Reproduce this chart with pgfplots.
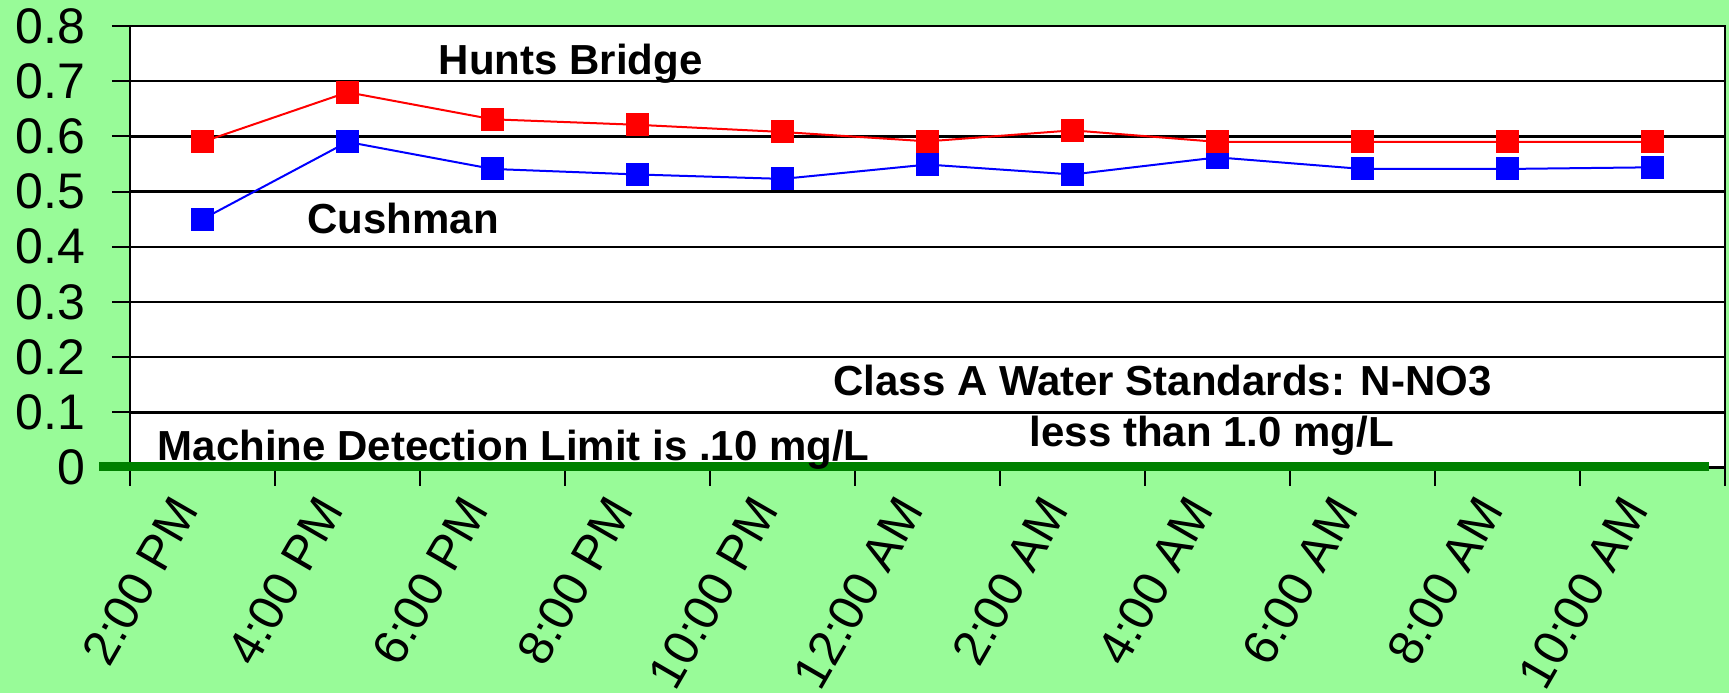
\documentclass[border=0pt]{standalone}
\usepackage{pgfplots}
\pgfplotsset{compat=1.18}
\usepackage{fontspec}
\setmainfont{Liberation Sans}
\definecolor{bggreen}{RGB}{152,251,152}
\definecolor{limgreen}{RGB}{0,128,0}
\begin{document}
\begin{tikzpicture}
\fill[bggreen] (-65pt,-112.75pt) rectangle (799.5pt,233.75pt);
\begin{axis}[
  at={(0,0)}, anchor=south west,
  scale only axis, width=797.5pt, height=220.75pt,
  xmin=-0.5, xmax=10.5, ymin=0, ymax=0.8,
  xtick={0,1,2,3,4,5,6,7,8,9,10},
  xticklabels={2:00 PM,4:00 PM,6:00 PM,8:00 PM,10:00 PM,12:00 AM,2:00 AM,4:00 AM,6:00 AM,8:00 AM,10:00 AM},
  minor xtick={-0.5,0.5,1.5,2.5,3.5,4.5,5.5,6.5,7.5,8.5,9.5,10.5},
  ytick={0,0.1,0.2,0.3,0.4,0.5,0.6,0.7,0.8},
  yticklabels={0,0.1,0.2,0.3,0.4,0.5,0.6,0.7,0.8},
  xtick pos=bottom, ytick pos=left,
  ymajorgrids, grid style={black, line width=1.2pt},
  axis line style={black, line width=1.2pt},
  tick align=outside, major tick length=9pt, minor tick length=9pt,
  major x tick style={draw=none},
  minor x tick style={black, line width=1pt},
  ytick style={black, line width=1pt},
  axis background/.style={fill=white},
  clip=false,
  yticklabel style={font=\fontsize{25}{29}\selectfont, anchor=east, inner sep=0pt, xshift=-13.3pt},
  xticklabel style={font=\fontsize{24.5}{28}\selectfont, anchor=north east, inner sep=0pt, xshift=-16pt, yshift=-3.6pt, rotate=60},
  /pgf/number format/assume math mode=true,
]
\addplot[blue, line width=1pt, mark=square*, mark size=5.5pt, mark options={solid, fill=blue, draw=blue, line width=0.5pt}]
  coordinates {(0,0.45) (1,0.59) (2,0.541) (3,0.531) (4,0.523) (5,0.549) (6,0.531) (7,0.562) (8,0.541) (9,0.541) (10,0.544)};
\addplot[red, line width=1pt, mark=square*, mark size=5.5pt, mark options={solid, fill=red, draw=red, line width=0.5pt}]
  coordinates {(0,0.59) (1,0.68) (2,0.631) (3,0.621) (4,0.608) (5,0.591) (6,0.611) (7,0.59) (8,0.59) (9,0.59) (10,0.59)};
\draw[limgreen, line width=4.5pt] ([yshift=0.6pt]axis cs:-0.712,0) -- ([yshift=0.6pt]axis cs:10.392,0);
\node[anchor=base, font=\fontsize{21}{25}\selectfont\bfseries] at (axis cs:2.54,0.712) {Hunts Bridge};
\node[anchor=base, font=\fontsize{21}{25}\selectfont\bfseries] at (axis cs:1.385,0.424) {Cushman};
\node[anchor=base, font=\fontsize{21}{25}\selectfont\bfseries] at (axis cs:6.62,0.131) {Class A Water Standards: N-NO3};
\node[anchor=base, font=\fontsize{21}{25}\selectfont\bfseries] at (axis cs:6.96,0.0376) {less than 1.0 mg/L};
\node[anchor=base, font=\fontsize{21}{25}\selectfont\bfseries] at (axis cs:2.146,0.0136) {Machine Detection Limit is .10 mg/L};
\end{axis}
\pgfresetboundingbox
\path (-65pt,-112.75pt) rectangle (799.5pt,233.75pt);
\end{tikzpicture}
\end{document}
